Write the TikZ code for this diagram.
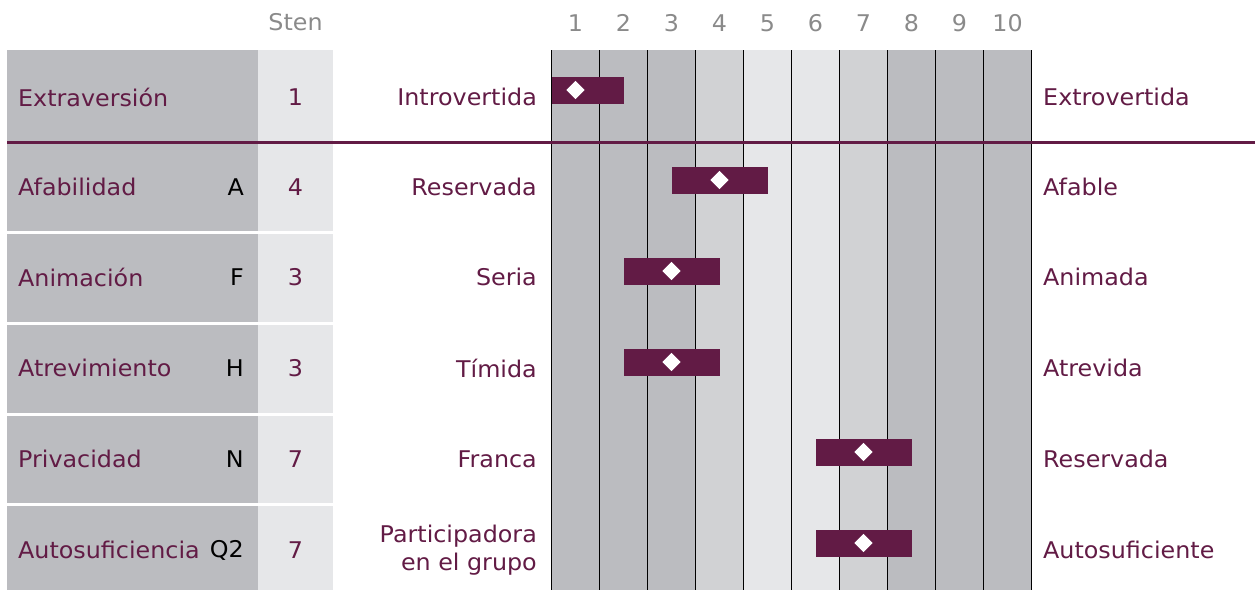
\documentclass[tikz,border=0pt]{standalone}
\usepackage{fontspec}
\setmainfont{DejaVu Sans}[FakeStretch=1.035]
\definecolor{plum}{HTML}{621B45}
\definecolor{gdark}{HTML}{BBBCC0}
\definecolor{gmid}{HTML}{D1D2D4}
\definecolor{glight}{HTML}{E6E7E9}
\definecolor{numgray}{HTML}{8A8A8A}
\tikzset{
  txt/.style={inner sep=0pt, font=\fontsize{23}{28}\selectfont},
  lbl/.style={txt, text=plum},
  code/.style={txt, text=black},
  hdr/.style={txt, text=numgray},
  bar/.style={fill=plum, draw=none, inner sep=0pt, minimum height=27pt},
  marker/.style={fill=white, draw=none, inner sep=0pt, minimum size=13pt, rotate=45},
  sep/.style={draw=black, line width=1.5pt},
  divider/.style={draw=plum, line width=3pt},
}
\begin{document}
\begin{tikzpicture}[x=1pt,y=-1pt]
\useasboundingbox (0,0) rectangle (1255,590);
% column shading
\foreach \i/\c in {1/gdark,2/gdark,3/gdark,4/gmid,5/glight,6/glight,7/gmid,8/gdark,9/gdark,10/gdark}{
  \fill[\c] ({551.5+48*(\i-1)},50) rectangle ({551.5+48*\i},590);
  \node[hdr] (n\i) at ({575.5+48*(\i-1)},23) {\i};
}
\foreach \i in {0,...,10}{
  \coordinate (vt\i) at ({551.5+48*\i},50);
  \coordinate (vb\i) at ({551.5+48*\i},590);
  \draw[sep] (vt\i) -- (vb\i);
}
\node[hdr] (sten) at (295.5,22) {Sten};
% rows: top/bottom/textY/barY/label/code/sten/left/right
\foreach \r/\t/\b/\ty/\by/\lab/\cd/\s/\lp/\rp in {
  1/50/141/97/90/Extraversión//1/Introvertida/Extrovertida,
  2/144/231/187/180/Afabilidad/A/4/Reservada/Afable,
  3/234/322/277/271/Animación/F/3/Seria/Animada,
  4/325/413/368/362/Atrevimiento/H/3/Tímida/Atrevida,
  5/416/503/459/452/Privacidad/N/7/Franca/Reservada,
  6/506/590/550/543/Autosuficiencia/Q2/7/{Participadora\\en el grupo}/Autosuficiente}{
  \fill[gdark] (7,\t) rectangle (258,\b);
  \fill[glight] (258,\t) rectangle (333,\b);
  \node[lbl, anchor=west] (lab\r) at (18,\ty) {\lab};
  \node[code, anchor=east] (code\r) at (244,\ty) {\cd};
  \node[lbl] (sten\r) at (295.5,\ty) {\s};
  \node[lbl, anchor=east, align=right] (lp\r) at (537,\ty) {\lp};
  \node[lbl, anchor=west] (rp\r) at (1043,\ty) {\rp};
  \pgfmathsetmacro{\cx}{575.5+48*(\s-1)}
  \pgfmathsetmacro{\xa}{max(551.5,\cx-48)}
  \pgfmathsetmacro{\xb}{\cx+48}
  \node[bar, minimum width={\xb-\xa}] (bar\r) at ({(\xa+\xb)/2},\by) {};
  \node[marker] (mk\r) at (\cx,\by) {};
}
% divider
\coordinate (dl) at (7,142.5);
\coordinate (dr) at (1255,142.5);
\draw[divider] (dl) -- (dr);
\end{tikzpicture}
\end{document}
